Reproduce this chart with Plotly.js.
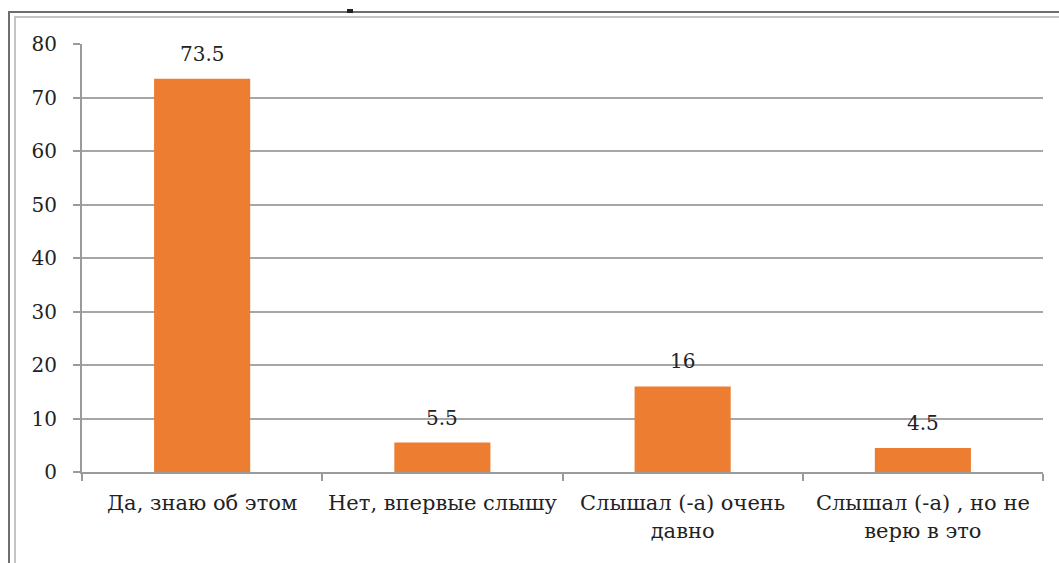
<!DOCTYPE html>
<html>
<head>
<meta charset="utf-8">
<script src="https://cdn.plot.ly/plotly-3.0.1.min.js"></script>
<style>
  html, body { margin: 0; padding: 0; background: #fff; }
  #wrap { position: relative; width: 1059px; height: 563px; overflow: hidden; }
  #chart { position: absolute; left: 0; top: 0; width: 1059px; height: 563px; }
  .ln { position: absolute; pointer-events: none; }
</style>
</head>
<body>
<div id="wrap">
  <div id="chart"></div>
  <div class="ln" style="left:9px; top:11px; width:1050px; height:2px; background:#6e6e6e;"></div>
  <div class="ln" style="left:14px; top:16px; width:1045px; height:2px; background:#c4c4c4;"></div>
  <div class="ln" style="left:8px; top:11px; width:2px; height:552px; background:#6e6e6e;"></div>
  <div class="ln" style="left:14px; top:16px; width:2px; height:547px; background:#c4c4c4;"></div>
  <div class="ln" style="left:347px; top:9px; width:6px; height:4px; background:#222;"></div>
</div>
<script>
const categories = [
  "Да, знаю об этом",
  "Нет, впервые слышу",
  "Слышал (-а) очень<br>давно",
  "Слышал (-а) , но не<br>верю в это"
];
const values = [73.5, 5.5, 16, 4.5];
const valueLabels = ["73.5", "5.5", "16", "4.5"];
const yTicks = [0, 10, 20, 30, 40, 50, 60, 70, 80];

const font = "DejaVu Serif";

const trace = {
  type: "bar",
  x: categories,
  y: values,
  marker: { color: "#ED7D31", line: { width: 0 } },
  hoverinfo: "skip"
};

const annotations = categories.map((c, i) => ({
  x: c, y: values[i], xref: "x", yref: "y",
  text: valueLabels[i], showarrow: false,
  yanchor: "bottom", yshift: 11,
  font: { family: font, size: 20, color: "#222" }
}));

const layout = {
  width: 1059, height: 563,
  margin: { l: 82, r: 16, t: 44, b: 91 },
  paper_bgcolor: "#ffffff",
  plot_bgcolor: "#ffffff",
  showlegend: false,
  bargap: 0.6,
  font: { family: font, size: 20, color: "#222" },
  xaxis: {
    type: "category",
    showgrid: false,
    showline: true, linecolor: "#9a9a9a", linewidth: 2,
    ticks: "outside", tickson: "boundaries", ticklen: 7, tickwidth: 2, tickcolor: "#9a9a9a",
    tickangle: 0,
    ticklabelstandoff: 11,
    tickfont: { family: font, size: 21, color: "#222" },
    automargin: false
  },
  yaxis: {
    range: [0, 80],
    tickvals: yTicks,
    ticktext: yTicks.map(String),
    showgrid: true, gridcolor: "#a6a6a6", gridwidth: 2,
    showline: true, linecolor: "#9a9a9a", linewidth: 2,
    zeroline: false,
    ticks: "outside", ticklen: 7, tickwidth: 2, tickcolor: "#9a9a9a",
    ticklabelstandoff: 12,
    tickfont: { family: font, size: 20, color: "#222" },
    automargin: false
  },
  annotations: annotations
};

Plotly.newPlot("chart", [trace], layout, { displayModeBar: false, staticPlot: true });
</script>
</body>
</html>
